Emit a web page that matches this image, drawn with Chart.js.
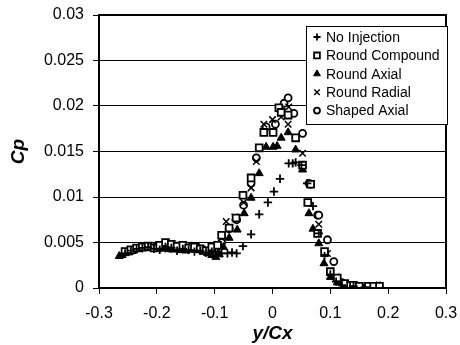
<!DOCTYPE html>
<html><head><meta charset="utf-8">
<script src="https://cdn.jsdelivr.net/npm/chart.js@4/dist/chart.umd.min.js"></script>
<style>html,body{margin:0;padding:0;background:#fff}#w{width:460px;height:345px}</style>
</head><body><div id="w"><canvas id="c" width="460" height="345"></canvas></div>
<script>
const seriesNames = ["No Injection","Round Compound","Round Axial","Round Radial","Shaped Axial"];
const xTicks = [-0.3,-0.2,-0.1,0,0.1,0.2,0.3];
const yTicks = [0,0.005,0.01,0.015,0.02,0.025,0.03];

const noInjX = [-0.255,-0.245,-0.235,-0.225,-0.215,-0.205,-0.195,-0.185,-0.175,-0.165,-0.155,-0.145,-0.135,-0.125,-0.115,-0.105,-0.095,-0.088,-0.078,-0.07,-0.062,-0.051,-0.037,-0.023,-0.008,0.0025,0.013,0.028,0.035,0.04,0.05,0.06,0.07,0.08,0.09,0.1,0.11,0.12,0.14,0.16];
const noInjY = [0.0038,0.0041,0.0043,0.0044,0.0045,0.0043,0.0042,0.0045,0.0044,0.0041,0.0043,0.0042,0.0040,0.0041,0.0039,0.0040,0.0039,0.0038,0.0038,0.0039,0.0038,0.0046,0.0059,0.0081,0.0094,0.0106,0.012,0.0137,0.0137,0.0138,0.0135,0.0115,0.009,0.006,0.0035,0.0015,0.0007,0.0003,0.0002,0.0001];

const rcX = [-0.255,-0.245,-0.235,-0.225,-0.215,-0.205,-0.195,-0.185,-0.175,-0.165,-0.155,-0.145,-0.135,-0.125,-0.115,-0.105,-0.095,-0.088,-0.075,-0.063,-0.051,-0.037,-0.023,-0.015,0.001,0.011,0.015,0.027,0.04,0.052,0.061,0.066,0.078,0.09,0.1,0.112,0.125,0.135,0.14,0.15,0.165,0.175,0.185];
const rcY = [0.0040,0.0042,0.0044,0.0045,0.0046,0.0044,0.0047,0.0050,0.0048,0.0046,0.0047,0.0044,0.0045,0.0043,0.0041,0.0045,0.0047,0.0058,0.0066,0.0077,0.0102,0.0121,0.0154,0.0171,0.0171,0.0198,0.0193,0.019,0.0165,0.0135,0.0094,0.0114,0.006,0.004,0.0018,0.0011,0.0005,0.0003,0.0003,0.0002,0.0002,0.0002,0.0002];

const raX = [-0.265,-0.26,-0.255,-0.248,-0.24,-0.232,-0.225,-0.218,-0.21,-0.202,-0.195,-0.188,-0.18,-0.172,-0.165,-0.158,-0.15,-0.142,-0.135,-0.128,-0.12,-0.112,-0.105,-0.098,-0.092,-0.085,-0.075,-0.061,-0.049,-0.037,-0.023,-0.011,0.001,0.008,0.015,0.027,0.04,0.052,0.063,0.07,0.08,0.089,0.1,0.112,0.126,0.133,0.14,0.15,0.16,0.18,0.186];
const raY = [0.0035,0.0036,0.0038,0.0039,0.0041,0.0043,0.0044,0.0045,0.0044,0.0046,0.0043,0.0045,0.0044,0.0042,0.0045,0.0043,0.0041,0.0044,0.0042,0.0045,0.0040,0.0038,0.0036,0.0034,0.0037,0.0045,0.0055,0.0064,0.0082,0.0099,0.0126,0.0155,0.0155,0.0156,0.0165,0.0171,0.0152,0.013,0.0082,0.0065,0.0049,0.0027,0.0012,0.0006,0.0002,0.0002,0.0001,0.0001,0.0001,0.0002,0.0002];

const rrX = [-0.25,-0.23,-0.21,-0.19,-0.17,-0.15,-0.13,-0.11,-0.095,-0.08,-0.065,-0.05,-0.037,-0.028,-0.015,0.0,0.015,0.027,0.028,0.04,0.052,0.065,0.08,0.095,0.11,0.13,0.15,0.17];
const rrY = [0.0040,0.0043,0.0045,0.0043,0.0046,0.0042,0.0044,0.0041,0.0048,0.0073,0.0078,0.0094,0.011,0.0139,0.018,0.0185,0.0188,0.018,0.0199,0.0165,0.0148,0.0114,0.007,0.0038,0.0012,0.0003,0.0001,0.0001];

const saX = [-0.24,-0.22,-0.2,-0.18,-0.16,-0.14,-0.12,-0.1,-0.088,-0.075,-0.062,-0.05,-0.037,-0.028,-0.011,0.005,0.02,0.027,0.037,0.052,0.063,0.066,0.078,0.08,0.095,0.106,0.12,0.14];
const saY = [0.0042,0.0045,0.0046,0.0044,0.0043,0.0046,0.0042,0.0043,0.005,0.0065,0.0075,0.0091,0.0115,0.0143,0.0177,0.018,0.0203,0.0209,0.0192,0.017,0.0115,0.0114,0.008,0.008,0.0053,0.0029,0.0006,0.0002];

const pts = (xs, ys) => xs.map((x, i) => ({x: x, y: ys[i]}));

const styles = [
  {pointStyle:'cross', radius:4.2, bg:'#000', bw:1.8},
  {pointStyle:'rect', radius:4.8, bg:'#fff', bw:1.8},
  {pointStyle:'triangle', radius:4.6, bg:'#000', bw:1},
  {pointStyle:'crossRot', radius:4.6, bg:'#000', bw:1.5},
  {pointStyle:'circle', radius:3.5, bg:'#fff', bw:1.8}
];
const allData = [pts(noInjX,noInjY), pts(rcX,rcY), pts(raX,raY), pts(rrX,rrY), pts(saX,saY)];

const datasets = seriesNames.map((n, i) => ({
  label: n, data: allData[i], showLine: false,
  pointStyle: styles[i].pointStyle, pointRadius: styles[i].radius,
  pointBackgroundColor: styles[i].bg, pointBorderColor: '#000',
  pointBorderWidth: styles[i].bw
}));

const FONT = 'Liberation Sans, Arial, sans-serif';

const frameAndLegend = {
  id: 'frameAndLegend',
  afterDatasetsDraw(chart) {
    const ctx = chart.ctx, a = chart.chartArea;
    ctx.save();
    ctx.strokeStyle = '#000'; ctx.lineWidth = 2;
    ctx.strokeRect(a.left, a.top, a.right - a.left, a.bottom - a.top);
    const lx = 306, ly = 26, lw = 141, lh = 98;
    ctx.fillStyle = '#fff';
    ctx.fillRect(lx, ly, lw, lh);
    ctx.lineWidth = 1;
    ctx.strokeRect(lx + 0.5, ly + 0.5, lw, lh);
    ctx.font = '14px ' + FONT;
    ctx.textBaseline = 'middle';
    ctx.textAlign = 'left';
    chart.data.datasets.forEach((ds, i) => {
      const y = 37 + i * 18.4;
      ctx.fillStyle = ds.pointBackgroundColor;
      ctx.strokeStyle = '#000';
      ctx.lineWidth = ds.pointBorderWidth;
      Chart.helpers.drawPoint(ctx, {pointStyle: ds.pointStyle, radius: ds.pointRadius * 0.85, rotation: 0, borderWidth: ds.pointBorderWidth}, 317, y);
      ctx.fillStyle = '#000';
      ctx.fillText(ds.label, 326, y + 1);
    });
    ctx.restore();
  }
};

new Chart(document.getElementById('c'), {
  type: 'scatter',
  data: { datasets: datasets },
  options: {
    responsive: false, animation: false, events: [],
    layout: { padding: { top: 15, right: 14, left: 0, bottom: 0 } },
    plugins: { legend: { display: false }, tooltip: { enabled: false } },
    scales: {
      x: {
        type: 'linear', min: xTicks[0], max: xTicks[xTicks.length - 1],
        afterBuildTicks: s => { s.ticks = xTicks.map(v => ({value: v})); },
        afterFit: s => { s.height = 57; s.paddingLeft = 0; s.paddingRight = 0; },
        border: { display: false },
        grid: { drawOnChartArea: false, drawTicks: true, tickLength: 6, tickColor: '#000', tickWidth: 1 },
        ticks: { color: '#000', font: { family: FONT, size: 16 }, padding: 10, maxRotation: 0,
                 callback: v => String(Math.round(v * 10) / 10) },
        title: { display: true, text: 'y/Cx', color: '#000', font: { family: FONT, size: 19, weight: 'bold', style: 'italic' }, padding: { top: 0, bottom: 0 } }
      },
      y: {
        type: 'linear', min: yTicks[0], max: yTicks[yTicks.length - 1],
        afterBuildTicks: s => { s.ticks = yTicks.map(v => ({value: v})); },
        afterFit: s => { s.width = 99; s.paddingTop = 0; s.paddingBottom = 0; },
        border: { display: false },
        grid: { color: '#000', lineWidth: 1, drawTicks: true, tickLength: 6, tickColor: '#000' },
        ticks: { color: '#000', font: { family: FONT, size: 16 }, padding: 9,
                 callback: v => String(Math.round(v * 1000) / 1000) },
        title: { display: true, text: 'Cp', color: '#000', font: { family: FONT, size: 19, weight: 'bold', style: 'italic' }, padding: { top: 7, bottom: 7 } }
      }
    }
  },
  plugins: [frameAndLegend]
});
</script></body></html>
